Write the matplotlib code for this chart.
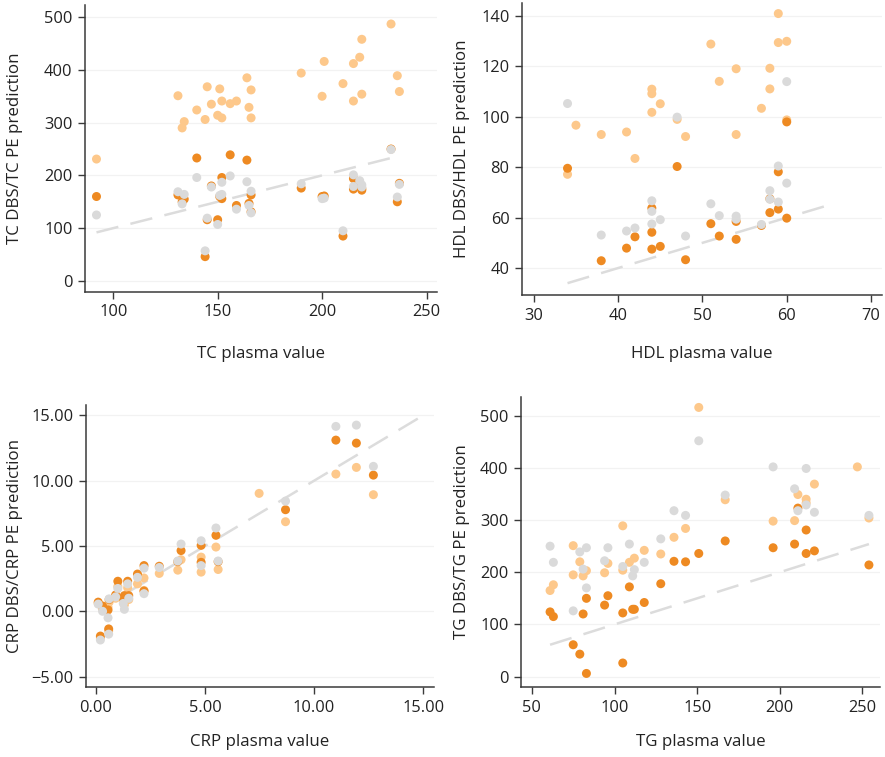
import numpy as np
import matplotlib
matplotlib.use("Agg")
import matplotlib.pyplot as plt
from matplotlib.ticker import FuncFormatter

plt.rcParams['font.family'] = ['Open Sans', 'DejaVu Sans']

nan = np.nan

# colours of the three prediction series (drawn light -> orange -> grey)
LIGHT = '#FDC88B'
ORANGE = '#EE8A22'
GREY = '#DADADA'
LINE = '#DCDCDC'

# --- TC ---
tc_x = [92, 131, 133, 134, 140, 144, 145, 147, 150, 151, 152, 152, 156, 159, 164,
        165, 166, 166, 190, 200, 201, 210, 215, 215, 218, 219, 219, 233, 236, 237]
tc_light = [231, 351, 290, 302, 324, 306, 368, 335, 314, 364, 341, 309, 336, 341, 385,
            329, 362, 309, 394, 350, 416, 374, 412, 341, 424, 458, 354, 487, 389, 359]
tc_orange = [160, 163, 150, 155, 233, 46, 116, 180, 116, 160, 196, 156, 239, 143, 229,
             147, 163, 131, 176, 160, 161, 85, 194, 174, 182, 172, 175, 250, 150, 185]
tc_grey = [125, 169, 146, 164, 196, 57, 119, 178, 107, 162, 187, 164, 199, 136, 188,
           143, 170, 129, 184, 156, 157, 95, 201, 179, 190, 178, 182, 249, 159, 183]
tc_ref = [92, 237]

# --- HDL ---
hdl_x = [34, 35, 38, 41, 42, 44, 44, 44, 45, 47, 48, 51, 52, 54, 54, 57, 58, 58,
         59, 59, 60, 60]
hdl_light = [77.2, 96.7, 93, 94, 83.5, 111, 109.2, 101.8, 105.2, 99, 92.2, 128.9, 114.1,
             119.1, 93, 103.4, 119.3, 111.1, 141, 129.5, 130, 98.8]
hdl_orange = [79.6, nan, 42.9, 47.9, 52.4, 63.8, 54.2, 47.5, 48.6, 80.3, 43.3, 57.6, 52.7,
              58.5, 51.4, 56.9, 67.5, 62.0, 78.2, 63.4, 59.8, 98.0]
hdl_grey = [105.3, nan, 53.1, 54.7, 55.9, 66.7, 62.5, 57.5, 59.2, 99.9, 52.7, 65.5, 60.8,
            60.6, 59.4, 57.3, 70.7, 67.3, 80.5, 66.2, 73.7, 114.0]
hdl_ref = [34, 65]

# --- CRP ---
crp_x = [0.10, 0.20, 0.30, 0.55, 0.58, 0.60, 0.90, 1.00, 1.30, 1.25, 1.45, 1.50, 1.90,
         2.20, 2.20, 2.90, 3.75, 3.90, 4.82, 4.82, 5.50, 5.60, 7.48, 8.69, 11.0, 11.94, 12.72]
crp_light = [0.6, -2.0, 0.2, 0.3, -1.5, 0.7, 1.0, 1.9, 0.5, 0.9, 1.8, 0.9, 2.1,
             2.55, 1.6, 2.9, 3.15, 3.95, 4.15, 3.0, 4.92, 3.2, 9.03, 6.86, 10.51, 11.02, 8.93]
crp_orange = [0.7, -1.9, 0.4, 0.1, -1.35, 0.9, 1.25, 2.3, 1.2, 1.0, 2.3, 1.2, 2.85,
              3.5, 1.55, 3.45, 3.8, 4.65, 5.05, 3.75, 5.82, 3.8, nan, 7.78, 13.11, 12.88, 10.43]
crp_grey = [0.55, -2.2, 0.0, -0.5, -1.75, 0.95, 1.1, 1.75, 0.15, 0.6, 2.1, 1.0, 2.6,
            3.3, 1.35, 3.35, 3.85, 5.15, 5.4, 3.5, 6.38, 3.85, nan, 8.44, 14.16, 14.26, 11.1]
crp_ref = [0.1, 15]

# --- TG ---
tg_x = [61, 63, 75, 75, 79, 81, 83, 83, 94, 96, 105, 105, 109, 111, 112, 118, 128, 136,
        143, 151, 167, 196, 209, 211, 216, 216, 221, 247, 254]
tg_light = [165, 176, 251, 195, 220, 193, 203, nan, 199, 217, 289, 204, 219, nan, 227, 242,
            235, 267, 284, 516, 339, 298, 299, 349, 340, 333, 369, 402, 304]
tg_orange = [124, 115, 61, nan, 43, 120, 150, 6, 137, 155, 26, 122, 172, 129, 129, 142,
             178, 221, 220, 236, 260, 247, 254, 323, 281, 236, 241, nan, 214]
tg_grey = [250, 219, 126, nan, 239, 206, 247, 170, 222, 247, 211, nan, 254, 193, 205, 219,
           264, 318, 309, 452, 348, 402, 360, 318, 399, 329, 315, nan, 309]
tg_ref = [61, 254]

W, H = 885, 757
fig = plt.figure(figsize=(W / 100, H / 100), dpi=100)


def make_ax(l, t, r, b):
    return fig.add_axes([l / W, 1 - b / H, (r - l) / W, (b - t) / H])


def style(ax, xlabel, ylabel, xlim, ylim, xticks, yticks, ylab_x, xlab_y, fmt=None):
    ax.set_xlim(xlim)
    ax.set_ylim(ylim)
    ax.set_xticks(xticks)
    ax.set_yticks(yticks)
    if fmt:
        f = FuncFormatter(lambda v, p: fmt.format(v).replace('-', '\u2212'))
        ax.xaxis.set_major_formatter(f)
        ax.yaxis.set_major_formatter(f)
    for s in ['top', 'right']:
        ax.spines[s].set_visible(False)
    for s in ['left', 'bottom']:
        ax.spines[s].set_color('#3a3a3a')
        ax.spines[s].set_linewidth(1.1)
    ax.tick_params(direction='out', length=5, width=1, color='#3a3a3a',
                   labelsize=11.8, labelcolor='#222222', pad=4)
    ax.grid(axis='y', color='#F2F2F2', linewidth=0.9)
    ax.set_axisbelow(True)
    ax.set_xlabel(xlabel, fontsize=12.2, color='#222222')
    ax.set_ylabel(ylabel, fontsize=12.2, color='#222222')
    ax.xaxis.set_label_coords(0.5, xlab_y)
    ax.yaxis.set_label_coords(ylab_x, 0.5)


def draw(ax, x, light, orange, grey, ref):
    ax.plot(ref, ref, color=LINE, lw=1.8, dashes=(9, 5), zorder=1)
    for y, c in [(light, LIGHT), (orange, ORANGE), (grey, GREY)]:
        ax.scatter(x, y, s=42, color=c, edgecolors='none', zorder=2)


ax1 = make_ax(85, 5, 437, 292)
draw(ax1, tc_x, tc_light, tc_orange, tc_grey, tc_ref)
style(ax1, 'TC plasma value', 'TC DBS/TC PE prediction', (86.5, 255), (-21, 523),
      [100, 150, 200, 250], [0, 100, 200, 300, 400, 500], -0.176, -0.187)

ax2 = make_ax(522, 3, 882, 295)
draw(ax2, hdl_x, hdl_light, hdl_orange, hdl_grey, hdl_ref)
style(ax2, 'HDL plasma value', 'HDL DBS/HDL PE prediction', (28.6, 71.3), (29.3, 145.2),
      [30, 40, 50, 60, 70], [40, 60, 80, 100, 120, 140], -0.144, -0.174)

ax3 = make_ax(86, 405, 434, 687)
draw(ax3, crp_x, crp_light, crp_orange, crp_grey, crp_ref)
style(ax3, 'CRP plasma value', 'CRP DBS/CRP PE prediction', (-0.46, 15.5), (-5.8, 15.8),
      [0, 5, 10, 15], [-5, 0, 5, 10, 15], -0.181, -0.167, fmt='{:.2f}')

ax4 = make_ax(521, 397, 880, 687)
draw(ax4, tg_x, tg_light, tg_orange, tg_grey, tg_ref)
style(ax4, 'TG plasma value', 'TG DBS/TG PE prediction', (43.4, 260.7), (-20, 536),
      [50, 100, 150, 200, 250], [0, 100, 200, 300, 400, 500], -0.142, -0.162)

fig.savefig('out.png', dpi=100)
